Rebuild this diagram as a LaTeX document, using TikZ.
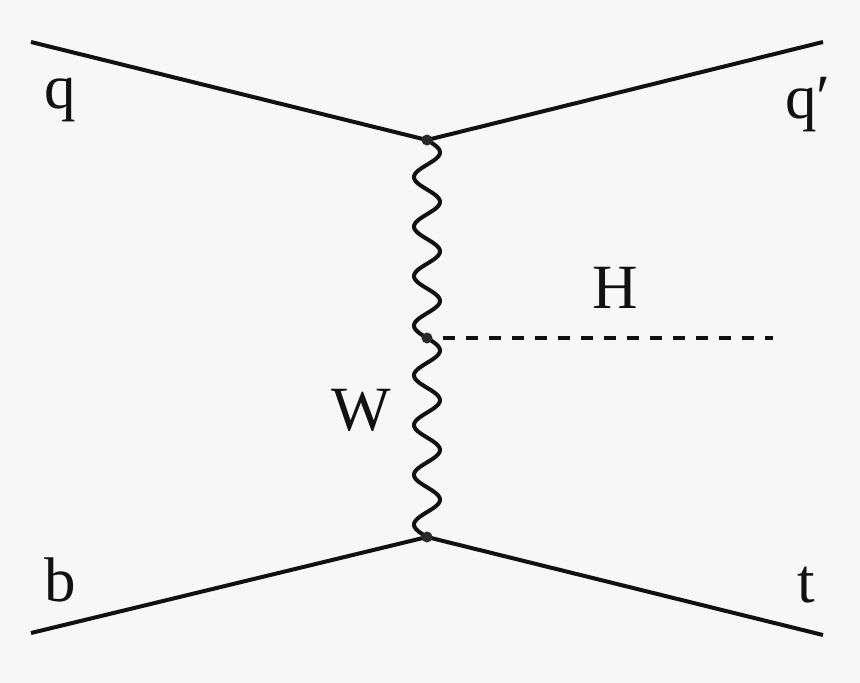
\documentclass[tikz,border=0pt]{standalone}
\usepackage{fontspec}
\setmainfont{Liberation Serif}
\usetikzlibrary{calc}
\definecolor{bg}{HTML}{F7F7F7}
\definecolor{ink}{HTML}{111111}
\begin{document}
\begin{tikzpicture}[x=1pt,y=-1pt,
  fermion/.style={draw=ink, line width=4pt},
  boson/.style={draw=ink, line width=4pt, line cap=round},
  scalar/.style={draw=ink, line width=4pt, dash pattern=on 12pt off 11pt, dash phase=7pt},
  vtx/.style={circle, fill=ink!90, inner sep=0pt, minimum size=11pt},
  lbl/.style={inner sep=0pt, anchor=base, text=ink, font=\fontsize{63}{76}\selectfont}]
\fill[bg] (0,0) rectangle (860,683);
\useasboundingbox (0,0) rectangle (860,683);
% vertices and free ends
\coordinate (vt) at (427,140);
\coordinate (vm) at (427,338);
\coordinate (vb) at (427,537);
\coordinate (qin) at (31,42);
\coordinate (qout) at (823,42);
\coordinate (bin) at (31,633);
\coordinate (tout) at (823,635);
\coordinate (hend) at (773,338);
% lines
\draw[fermion] (qin) -- (vt) -- (qout);
\draw[fermion] (bin) -- (vb) -- (tout);
\draw[boson] let \p1=(vt), \p2=(vm) in
  plot[variable=\t, domain=0:1, samples=161, smooth]
  ({\x1+13pt*sin(1440*\t)}, {\y1+(\y2-\y1)*\t});
\draw[boson] let \p1=(vm), \p2=(vb) in
  plot[variable=\t, domain=0:1, samples=161, smooth]
  ({\x1+13pt*sin(1440*\t)}, {\y1+(\y2-\y1)*\t});
\draw[scalar] (vm) -- (hend);
% dots
\node[vtx] (dt) at (vt) {};
\node[vtx] (dm) at (vm) {};
\node[vtx] (db) at (vb) {};
% labels
\node[lbl] (lq) at (60,108) {q};
\node[lbl] (lqp) at (808,118) {q′};
\node[lbl] (lH) at (615,308) {H};
\node[lbl] (lW) at (361,430) {W};
\node[lbl] (lb) at (60,601) {b};
\node[lbl] (lt) at (806,602) {t};
\end{tikzpicture}
\end{document}
